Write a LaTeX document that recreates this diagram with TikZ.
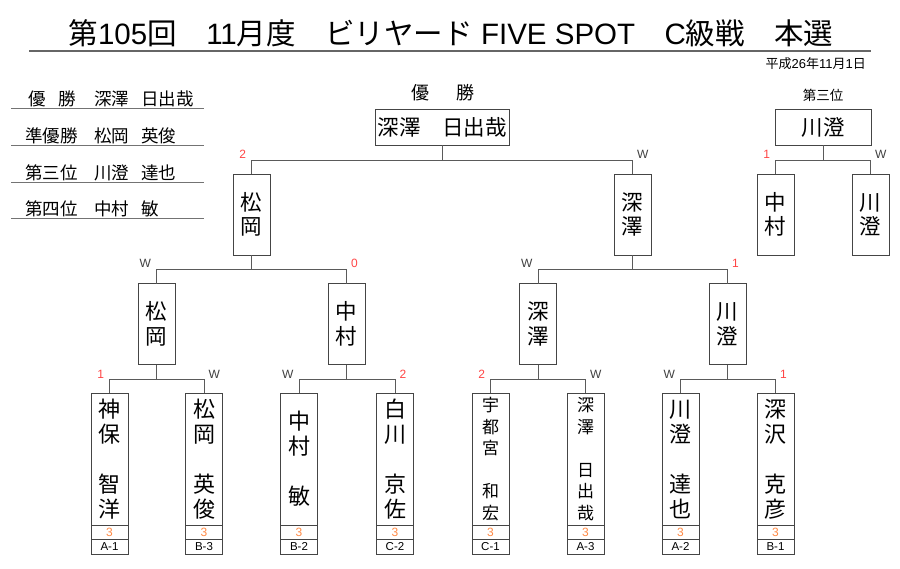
\documentclass[tikz,border=0pt]{standalone}
\usepackage{fontspec}
\setmainfont{Noto Sans CJK JP}
\newfontfamily\lat{Liberation Sans}
\usetikzlibrary{positioning}
\definecolor{lineGray}{HTML}{5A5A5A}
\definecolor{boxGray}{HTML}{454545}
\definecolor{loseRed}{HTML}{FF4545}
\definecolor{scoreOrange}{HTML}{FF8A45}
\tikzset{
    conn/.style={draw=lineGray, line width=1pt},
    topbox/.style={rectangle, draw=boxGray, line width=1pt, minimum height=36pt, inner sep=0pt, outer sep=0pt, font=\fontsize{21.5}{24}\selectfont},
    midbox/.style={rectangle, draw=boxGray, line width=1pt, minimum width=37pt, minimum height=81pt, inner sep=0pt, outer sep=0pt, align=center, font=\fontsize{21.5}{24.5}\selectfont},
    player/.style={rectangle, draw=boxGray, line width=1pt, minimum width=37pt, minimum height=132pt, inner sep=0pt, outer sep=0pt, anchor=north, align=center, font=\fontsize{22}{25}\selectfont},
    smallname/.style={font=\fontsize{17}{21.5}\selectfont},
    scorebox/.style={rectangle, draw=boxGray, line width=0.8pt, minimum width=37pt, minimum height=14.5pt, inner sep=0pt, outer sep=0pt, text=scoreOrange, font=\lat\fontsize{12}{12}\selectfont},
    codebox/.style={scorebox, text=black, font=\lat\fontsize{11.5}{11.5}\selectfont},
    win/.style={inner sep=1pt, text=black!75, font=\lat\fontsize{12}{12}\selectfont},
    lose/.style={win, text=loseRed},
    heading/.style={inner sep=0pt, font=\fontsize{18}{18}\selectfont},
    listtext/.style={anchor=base west, inner sep=0pt, font=\fontsize{17.5}{17.5}\selectfont},
    listline/.style={draw=black!55, line width=1pt}
}
\begin{document}
\begin{tikzpicture}[x=1pt, y=-1pt]
    \path[fill=white, use as bounding box] (0,0) rectangle (900,568);

    % Title
    \node[inner sep=0pt, font=\fontsize{29.5}{29.5}\selectfont] (title) at (451,33) {第{\lat 105}回　{\lat 11}月度　ビリヤード{\lat\ FIVE SPOT}　{\lat C}級戦　本選};
    \draw[draw=black!60, line width=2pt] (29,51) -- (871,51);
    \node[inner sep=0pt, anchor=east, font=\fontsize{13}{13}\selectfont] (date) at (866,64) {平成{\lat 26}年{\lat 11}月{\lat 1}日};

    % Results list
    \node[listtext] (r1a) at (28,105) {\makebox[48pt]{優\hfill 勝}};
    \node[listtext] (r1b) at (94,105) {深澤};
    \node[listtext] (r1c) at (141,105) {日出哉};
    \node[listtext] (r2a) at (25,142) {準優勝};
    \node[listtext] (r2b) at (94,142) {松岡};
    \node[listtext] (r2c) at (141,142) {英俊};
    \node[listtext] (r3a) at (25,179) {第三位};
    \node[listtext] (r3b) at (94,179) {川澄};
    \node[listtext] (r3c) at (141,179) {達也};
    \node[listtext] (r4a) at (25,215) {第四位};
    \node[listtext] (r4b) at (94,215) {中村};
    \node[listtext] (r4c) at (141,215) {敏};
    \draw[listline] (11,108) -- (204,108);
    \draw[listline] (11,145) -- (204,145);
    \draw[listline] (11,182) -- (204,182);
    \draw[listline] (11,218) -- (204,218);

    % Final and third place
    \node[heading] (champLabel) at (443,93) {優\hspace{27pt}勝};
    \node[topbox, minimum width=134pt] (champ) at (442,127) {深澤　日出哉};
    \node[heading, font=\fontsize{13.5}{13.5}\selectfont] (thirdLabel) at (823,95) {第三位};
    \node[topbox, minimum width=96pt] (third) at (823,127) {川澄};

    % Semifinals
    \node[midbox] (s1) at (251.5,214.5) {松\\岡};
    \node[midbox] (s2) at (632.5,214.5) {深\\澤};
    \node[midbox] (t1) at (775.5,214.5) {中\\村};
    \node[midbox] (t2) at (870.5,214.5) {川\\澄};

    % Second round
    \node[midbox] (q1) at (156.5,324) {松\\岡};
    \node[midbox] (q2) at (346.5,324) {中\\村};
    \node[midbox] (q3) at (538,324) {深\\澤};
    \node[midbox] (q4) at (727.5,324) {川\\澄};

    % First round
    \node[player] (pA1) at (109.5,393) {神\\保\\[25pt]智\\洋};
    \node[player] (pB3) at (204,393) {松\\岡\\[25pt]英\\俊};
    \node[player] (pB2) at (299,393) {中\\村\\[25pt]敏};
    \node[player] (pC2) at (395,393) {白\\川\\[25pt]京\\佐};
    \node[player, smallname] (pC1) at (490.5,393) {宇\\都\\宮\\[21.5pt]和\\宏};
    \node[player, smallname] (pA3) at (585.5,393) {深\\澤\\[21.5pt]日\\出\\哉};
    \node[player] (pA2) at (680.5,393) {川\\澄\\[25pt]達\\也};
    \node[player] (pB1) at (775.5,393) {深\\沢\\[25pt]克\\彦};

    \node[scorebox, below=0pt of pA1] (pA1s) {3};
    \node[scorebox, below=0pt of pB3] (pB3s) {3};
    \node[scorebox, below=0pt of pB2] (pB2s) {3};
    \node[scorebox, below=0pt of pC2] (pC2s) {3};
    \node[scorebox, below=0pt of pC1] (pC1s) {3};
    \node[scorebox, below=0pt of pA3] (pA3s) {3};
    \node[scorebox, below=0pt of pA2] (pA2s) {3};
    \node[scorebox, below=0pt of pB1] (pB1s) {3};

    \node[codebox, below=0pt of pA1s] (pA1c) {A-1};
    \node[codebox, below=0pt of pB3s] (pB3c) {B-3};
    \node[codebox, below=0pt of pB2s] (pB2c) {B-2};
    \node[codebox, below=0pt of pC2s] (pC2c) {C-2};
    \node[codebox, below=0pt of pC1s] (pC1c) {C-1};
    \node[codebox, below=0pt of pA3s] (pA3c) {A-3};
    \node[codebox, below=0pt of pA2s] (pA2c) {A-2};
    \node[codebox, below=0pt of pB1s] (pB1c) {B-1};

    % Connections
    \draw[conn] (champ.south) -- ++(0,15) -| node[lose, above left=0pt and 4pt] {2} (s1.north);
    \draw[conn] (champ.south) ++(0,15) -| node[win, above right=0pt and 3pt] {W} (s2.north);
    \draw[conn] (third.south) -- ++(0,15) -| node[lose, above left=0pt and 4pt] {1} (t1.north);
    \draw[conn] (third.south) ++(0,15) -| node[win, above right=0pt and 3pt] {W} (t2.north);

    \draw[conn] (s1.south) -- ++(0,14) -| node[win, above left=0pt and 4pt] {W} (q1.north);
    \draw[conn] (s1.south) ++(0,14) -| node[lose, above right=0pt and 3pt] {0} (q2.north);
    \draw[conn] (s2.south) -- ++(0,14) -| node[win, above left=0pt and 4pt] {W} (q3.north);
    \draw[conn] (s2.south) ++(0,14) -| node[lose, above right=0pt and 3pt] {1} (q4.north);

    \draw[conn] (q1.south) -- ++(0,15) -| node[lose, above left=0pt and 4pt] {1} (pA1.north);
    \draw[conn] (q1.south) ++(0,15) -| node[win, above right=0pt and 3pt] {W} (pB3.north);
    \draw[conn] (q2.south) -- ++(0,15) -| node[win, above left=0pt and 4pt] {W} (pB2.north);
    \draw[conn] (q2.south) ++(0,15) -| node[lose, above right=0pt and 3pt] {2} (pC2.north);
    \draw[conn] (q3.south) -- ++(0,15) -| node[lose, above left=0pt and 4pt] {2} (pC1.north);
    \draw[conn] (q3.south) ++(0,15) -| node[win, above right=0pt and 3pt] {W} (pA3.north);
    \draw[conn] (q4.south) -- ++(0,15) -| node[win, above left=0pt and 4pt] {W} (pA2.north);
    \draw[conn] (q4.south) ++(0,15) -| node[lose, above right=0pt and 3pt] {1} (pB1.north);
\end{tikzpicture}
\end{document}
